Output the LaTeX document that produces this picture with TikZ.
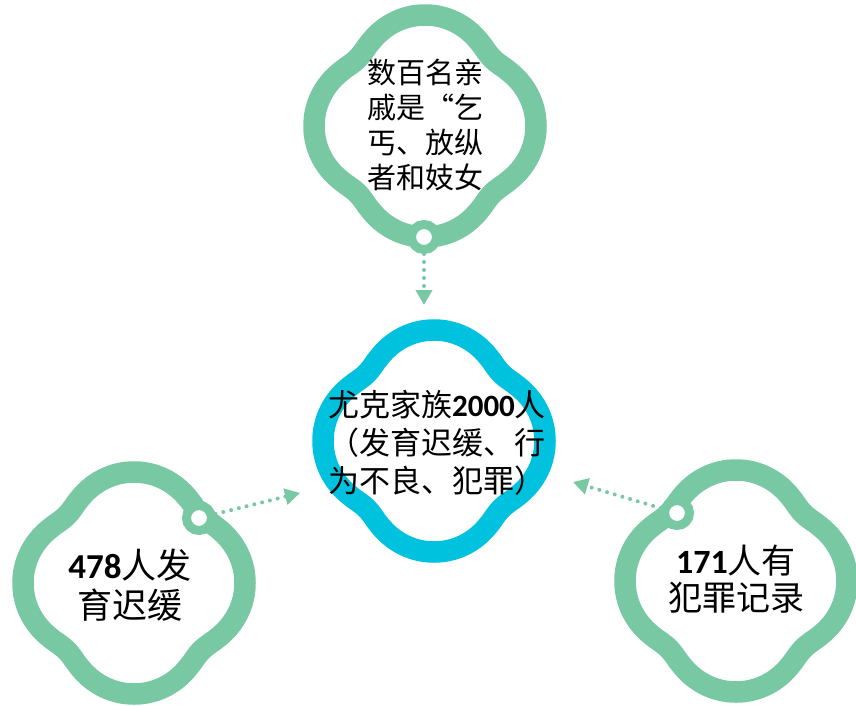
\documentclass[tikz,border=0pt]{standalone}
\usepackage{fontspec}
\setmainfont{Noto Sans CJK SC}
\newfontfamily\numfont{Carlito}
\usetikzlibrary{arrows.meta}
\definecolor{leaf}{RGB}{120,200,164}
\definecolor{aqua}{RGB}{0,194,222}
\newcommand\quatrefoil[3]{%
  \draw[petal,#3] plot[domain=0:358,samples=180]
    ({#1+qr(\x)*cos(\x)},{#2+qr(\x)*sin(\x)}) -- cycle;}
\begin{document}
\begin{tikzpicture}[x=1pt,y=-1pt,
  declare function={
    qa(\t)=43*abs(cos(\t))+sqrt(4624-1849*sin(\t)^2);
    qb(\t)=43*abs(sin(\t))+sqrt(4624-1849*cos(\t)^2);
    qr(\t)=111*((qa(\t)/111)^16+(qb(\t)/111)^16)^(1/16);
  }]
\tikzset{
  petal/.style={line width=21.5pt,line join=round},
  ring/.style={circle,draw=leaf,line width=9pt,fill=white,minimum size=25pt,inner sep=0pt},
  dotline/.style={leaf,line width=4pt,dash pattern=on 0pt off 8pt,line cap=round,
    -{Triangle[length=15pt,width=16pt]}},
  label/.style={text=black,inner sep=0pt}
}
\useasboundingbox (0,0) rectangle (856,706);
\fill[white] (0,0) rectangle (856,706);
\quatrefoil{425}{126}{leaf}
\quatrefoil{434}{441}{aqua}
\quatrefoil{134}{583}{leaf}
\quatrefoil{736}{581}{leaf}
\node[ring] (r1) at (424,237) {};
\node[ring] (r2) at (199,518) {};
\node[ring] (r3) at (677,513) {};
\coordinate (tipT) at (424,305);
\coordinate (tipL) at (300,493);
\coordinate (tipR) at (573,482);
\draw[dotline] (r1) -- (tipT);
\draw[dotline] (r2) -- (tipL);
\draw[dotline] (r3) -- (tipR);
\node[label,align=center,font=\fontsize{29}{35}\selectfont] (t1) at (425,125)
  {数百名亲\\戚是“乞\\丐、放纵\\者和妓女};
\node[label,align=left,font=\fontsize{31}{38}\selectfont] (t2) at (437,443)
  {尤克家族{\numfont\bfseries 2000}人\\（发育迟缓、行\\为不良、犯罪）};
\node[label,align=center,font=\fontsize{35}{40}\selectfont] (t3) at (130,585)
  {{\numfont\bfseries 478}人发\\育迟缓};
\node[label,align=center,font=\fontsize{34}{37}\selectfont] (t4) at (736,579)
  {{\numfont\bfseries 171}人有\\犯罪记录};
\end{tikzpicture}
\end{document}
